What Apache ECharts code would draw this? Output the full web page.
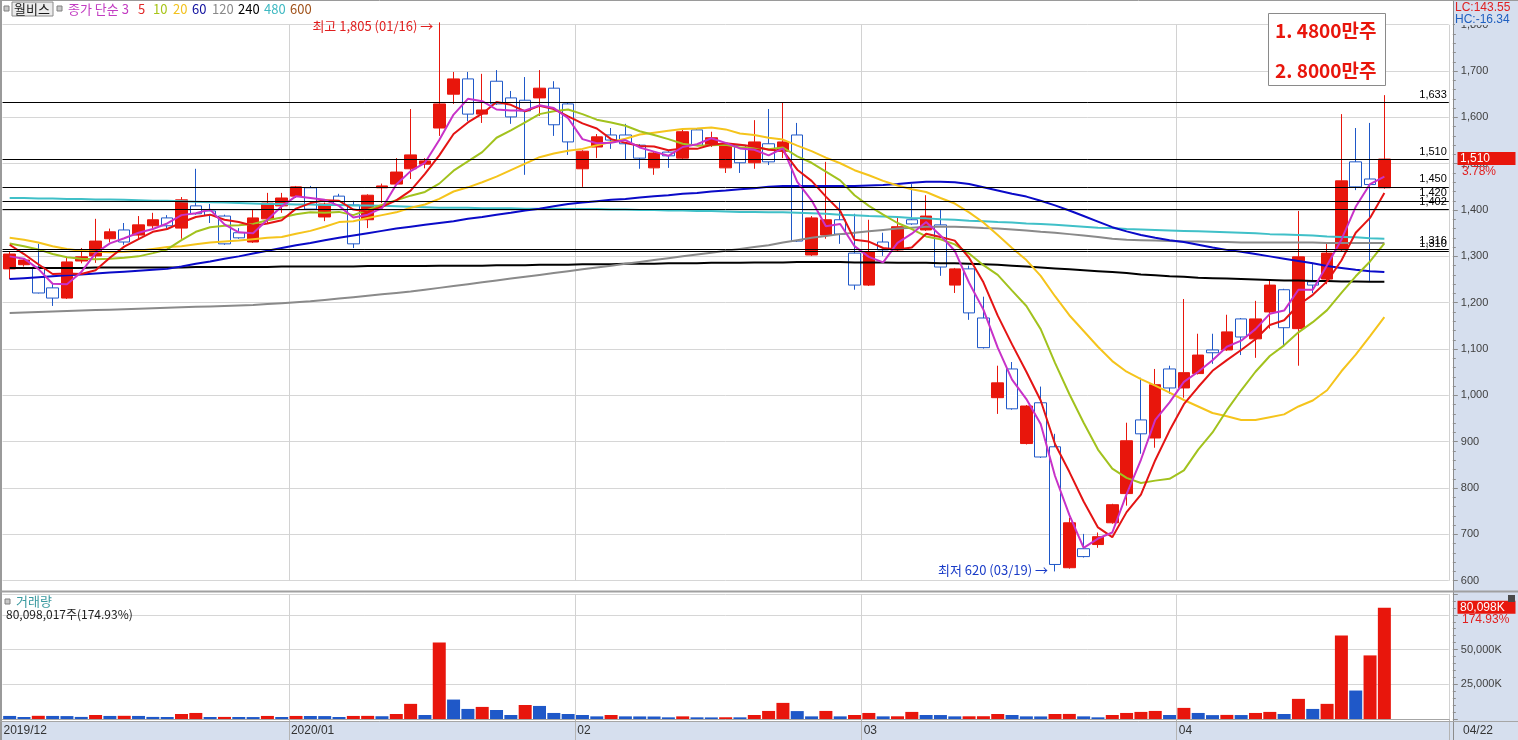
<!DOCTYPE html>
<html><head><meta charset="utf-8">
<script src="https://cdn.jsdelivr.net/npm/echarts@6/dist/echarts.min.js"></script>
<style>html,body{margin:0;padding:0;background:#fff}#c{width:1518px;height:740px}</style>
</head><body><div id="c"></div><script>
const dates = ['2019/12/02','2019/12/03','2019/12/04','2019/12/05','2019/12/06','2019/12/09','2019/12/10','2019/12/11','2019/12/12','2019/12/13','2019/12/16','2019/12/17','2019/12/18','2019/12/19','2019/12/20','2019/12/23','2019/12/24','2019/12/26','2019/12/27','2019/12/30',
'2020/01/02','2020/01/03','2020/01/06','2020/01/07','2020/01/08','2020/01/09','2020/01/10','2020/01/13','2020/01/14','2020/01/15','2020/01/16','2020/01/17','2020/01/20','2020/01/21','2020/01/22','2020/01/23','2020/01/28','2020/01/29','2020/01/30','2020/01/31',
'2020/02/03','2020/02/04','2020/02/05','2020/02/06','2020/02/07','2020/02/10','2020/02/11','2020/02/12','2020/02/13','2020/02/14','2020/02/17','2020/02/18','2020/02/19','2020/02/20','2020/02/21','2020/02/24','2020/02/25','2020/02/26','2020/02/27','2020/02/28',
'2020/03/02','2020/03/03','2020/03/04','2020/03/05','2020/03/06','2020/03/09','2020/03/10','2020/03/11','2020/03/12','2020/03/13','2020/03/16','2020/03/17','2020/03/18','2020/03/19','2020/03/20','2020/03/23','2020/03/24','2020/03/25','2020/03/26','2020/03/27','2020/03/30','2020/03/31',
'2020/04/01','2020/04/02','2020/04/03','2020/04/06','2020/04/07','2020/04/08','2020/04/09','2020/04/10','2020/04/13','2020/04/14','2020/04/16','2020/04/17','2020/04/20','2020/04/21','2020/04/22'];

const opens = [1273,1282,1277,1232,1210,1290,1301,1338,1357,1346,
1366,1383,1361,1409,1398,1387,1351,1331,1381,1409,
1430,1448,1385,1430,1411,1379,1448,1456,1489,1499,
1577,1650,1683,1607,1678,1642,1637,1642,1663,1629,
1489,1536,1562,1562,1540,1491,1525,1512,1573,1540,
1491,1540,1502,1543,1527,1562,1303,1346,1379,1307,
1238,1331,1314,1379,1357,1368,1238,1273,1167,995,
1057,896,984,889,628,669,678,725,788,947,
908,1057,1016,1047,1098,1098,1165,1122,1180,1228,
1144,1245,1251,1314,1504,1467,1448];
const closes = [1305,1292,1221,1210,1288,1299,1333,1353,1331,1368,
1379,1366,1422,1392,1389,1327,1340,1383,1415,1426,
1450,1402,1413,1411,1327,1432,1452,1482,1519,1506,
1629,1683,1607,1616,1629,1601,1614,1663,1584,1547,
1527,1558,1551,1543,1512,1523,1517,1569,1540,1556,
1540,1502,1547,1504,1547,1333,1383,1379,1348,1238,
1310,1314,1364,1370,1387,1277,1273,1178,1103,1027,
971,977,867,635,725,652,695,764,902,917,
1023,1016,1049,1087,1092,1137,1126,1165,1238,1146,
1299,1238,1307,1463,1450,1455,1510];
const lows = [1251,1278,1220,1193,1208,1285,1286,1330,1325,1338,
1360,1360,1338,1390,1372,1325,1338,1329,1372,1394,
1426,1400,1376,1409,1318,1361,1415,1454,1467,1490,
1560,1629,1592,1588,1627,1586,1476,1603,1560,1519,
1450,1512,1532,1510,1489,1476,1491,1510,1538,1536,
1480,1480,1489,1497,1512,1331,1301,1338,1327,1228,
1236,1301,1312,1368,1355,1258,1221,1163,1101,960,
969,894,865,620,626,650,671,723,762,874,
887,1003,995,1045,1068,1096,1087,1081,1144,1107,
1064,1221,1240,1312,1443,1247,1446];
const highs = [1310,1295,1327,1240,1297,1318,1381,1360,1372,1387,
1394,1389,1428,1489,1413,1390,1361,1402,1437,1437,
1452,1452,1416,1435,1420,1434,1457,1512,1618,1512,
1805,1698,1698,1694,1702,1657,1687,1702,1678,1633,
1529,1564,1577,1586,1542,1525,1527,1577,1577,1569,
1542,1542,1594,1618,1633,1588,1387,1504,1417,1392,
1379,1351,1383,1456,1432,1402,1275,1280,1213,1064,
1072,979,1019,917,736,701,704,766,941,1038,
1057,1064,1208,1133,1133,1174,1167,1204,1247,1230,
1398,1286,1331,1607,1577,1588,1648];
// volume in thousand shares
const volumes = [2200,1450,2300,2200,2100,1500,2900,2200,2300,2200,
1500,1450,3600,4350,1450,1500,1450,1400,2200,1450,
2200,2150,2100,1450,2200,2250,2000,3600,10900,2900,
55100,14000,7250,8700,6500,2900,10100,9400,4350,3600,
2900,1900,2900,1900,1850,1800,1200,1900,1200,1150,
1250,1200,2900,5800,11600,5700,1900,5800,1900,2900,
4350,1900,1950,5100,2900,2850,1900,1950,2000,3600,
2900,1900,1850,3600,3650,1900,1200,2900,4350,5100,
5800,2900,8000,4350,2800,2950,2850,4350,5100,3600,
14500,7250,10900,60100,20500,45788,80098];

const ma3 = [1300,1295,1273,1241,1240,1266,1307,1328,1339,1351,
1359,1371,1389,1393,1401,1369,1352,1350,1379,1408,
1430,1426,1422,1409,1384,1390,1404,1455,1484,1502,
1551,1606,1640,1635,1617,1615,1615,1626,1620,1598,
1553,1544,1545,1551,1535,1526,1517,1536,1542,1555,
1545,1533,1530,1518,1533,1461,1421,1365,1370,1322,
1299,1287,1329,1349,1374,1345,1312,1243,1185,1103,
1034,992,938,826,742,671,691,704,787,861,
947,985,1029,1051,1076,1105,1118,1143,1176,1183,
1228,1228,1281,1336,1407,1456,1472];
const ma5 = [1325,1305,1283,1262,1263,1262,1270,1297,1321,1337,
1353,1359,1373,1385,1390,1379,1374,1366,1371,1378,
1403,1415,1421,1420,1401,1397,1407,1421,1442,1478,
1518,1564,1589,1608,1633,1627,1613,1625,1618,1602,
1587,1576,1553,1545,1538,1537,1529,1533,1532,1541,
1544,1541,1537,1530,1528,1487,1463,1429,1398,1336,
1332,1318,1315,1319,1349,1342,1334,1297,1244,1172,
1110,1051,989,895,835,771,715,694,748,786,
860,924,981,1018,1053,1076,1098,1121,1152,1162,
1195,1217,1246,1291,1351,1383,1437];
const ma10 = [1328,1322,1315,1305,1298,1295,1294,1295,1297,1300,
1307,1315,1335,1353,1363,1366,1367,1370,1378,1384,
1391,1395,1394,1396,1389,1400,1411,1421,1431,1439,
1457,1485,1505,1525,1556,1572,1589,1607,1613,1617,
1607,1595,1589,1582,1570,1562,1553,1543,1539,1540,
1541,1535,1535,1531,1535,1516,1502,1483,1464,1432,
1409,1390,1372,1359,1343,1337,1326,1306,1281,1260,
1226,1193,1143,1070,1003,941,883,842,822,811,
816,820,838,883,920,968,1011,1051,1085,1108,
1136,1158,1184,1221,1257,1289,1328];
const ma20 = [1340,1336,1330,1322,1316,1312,1310,1309,1310,1312,
1316,1320,1322,1326,1330,1332,1334,1337,1340,1342,
1349,1355,1364,1374,1376,1383,1389,1395,1405,1412,
1424,1440,1449,1460,1472,1486,1500,1514,1522,1528,
1532,1540,1547,1554,1563,1567,1571,1575,1576,1578,
1574,1565,1562,1556,1552,1539,1527,1513,1501,1486,
1475,1463,1453,1445,1439,1426,1414,1395,1373,1346,
1318,1292,1258,1214,1173,1139,1105,1074,1051,1035,
1021,1006,990,976,962,955,947,947,953,959,
976,989,1011,1052,1088,1128,1169];
const ma60 = [1251,1253,1255,1257,1259,1261,1263,1265,1267,1269,
1271,1273,1278,1284,1289,1295,1300,1306,1312,1318,
1324,1329,1335,1340,1345,1350,1355,1360,1364,1368,
1372,1376,1381,1385,1390,1394,1399,1403,1408,1413,
1416,1419,1422,1424,1427,1430,1432,1435,1437,1440,
1442,1445,1447,1450,1452,1452,1452,1452,1452,1452,
1453,1454,1456,1459,1461,1461,1460,1456,1449,1442,
1435,1429,1420,1410,1399,1387,1375,1363,1354,1346,
1340,1335,1331,1325,1319,1314,1310,1305,1300,1295,
1290,1285,1279,1275,1271,1268,1266];
const ma120 = [1178,1179,1180,1181,1182,1183,1184,1185,1186,1187,
1188,1189,1190,1191,1192,1193,1194,1195,1197,1199,
1201,1203,1206,1209,1212,1215,1218,1221,1224,1228,
1232,1236,1240,1244,1248,1252,1256,1260,1264,1268,
1272,1276,1280,1284,1288,1292,1296,1300,1304,1308,
1312,1316,1320,1324,1330,1335,1340,1344,1348,1351,
1354,1357,1360,1362,1364,1364,1364,1363,1361,1360,
1358,1356,1353,1351,1348,1345,1342,1338,1336,1335,
1334,1333,1332,1332,1331,1331,1330,1330,1330,1330,
1330,1330,1329,1329,1329,1329,1329];
const ma240 = [1275,1275,1275,1275,1275,1275,1276,1276,1276,1276,
1276,1276,1276,1277,1277,1277,1277,1277,1277,1278,
1278,1278,1278,1278,1278,1279,1279,1279,1279,1279,
1280,1280,1280,1280,1281,1281,1281,1282,1282,1282,
1283,1283,1283,1284,1284,1284,1285,1285,1285,1286,
1286,1286,1287,1287,1287,1288,1288,1288,1288,1287,
1287,1287,1286,1286,1286,1285,1285,1284,1283,1282,
1280,1278,1276,1274,1272,1270,1268,1266,1264,1261,
1259,1257,1256,1254,1253,1252,1251,1250,1249,1248,
1248,1247,1247,1246,1246,1245,1245];
const ma480 = [1426,1426,1425,1425,1424,1424,1423,1423,1422,1421,
1420,1420,1419,1418,1417,1416,1415,1414,1413,1413,
1412,1412,1411,1411,1410,1410,1409,1408,1407,1406,
1405,1405,1405,1404,1404,1404,1403,1403,1403,1402,
1402,1402,1401,1401,1400,1400,1399,1399,1398,1398,
1397,1396,1396,1395,1395,1394,1393,1392,1390,1389,
1387,1386,1385,1383,1382,1380,1379,1377,1376,1374,
1373,1371,1370,1368,1366,1364,1362,1361,1359,1358,
1357,1356,1355,1354,1353,1352,1351,1350,1348,1347,
1346,1345,1343,1342,1341,1339,1338];

const refLevels = [1633, 1510, 1450, 1420, 1402, 1316, 1310];
const legendItems = [['종가 단순 3','#c23cc2'],['5','#e02828'],['10','#a8c418'],['20','#f2c21e'],['60','#10109e'],['120','#8a8a8a'],['240','#000000'],['480','#3fb9c2'],['600','#a0521a']];

const fmt = v => String(v).replace(/\B(?=(\d{3})+(?!\d))/g, ',');
const RED = '#e8160c', BLUE = '#1f58c8';
const NUMFONT = '"Liberation Sans", Arial, sans-serif';
const KFONT = '"Noto Sans CJK KR", sans-serif';
const cats = dates.concat(['', '', '', '']);
const monthStarts = dates.map((d, i) => (i > 0 && d.slice(0, 7) !== dates[i - 1].slice(0, 7)) ? i : -1).filter(i => i > 0);
const isMonthStart = (idx) => monthStarts.indexOf(idx) >= 0;

const hiIdx = highs.indexOf(Math.max(...highs));
const loIdx = lows.indexOf(Math.min(...lows));
const last = dates.length - 1;

function maSeries(name, data, color, width) {
  return { name, type: 'line', xAxisIndex: 0, yAxisIndex: 0, data, symbol: 'none', showSymbol: false,
    lineStyle: { color, width }, itemStyle: { color }, z: 4, silent: true, animation: false };
}

const option = {
  animation: false,
  backgroundColor: '#d6dfee',
  grid: [
    { left: 2.5, right: 69.2, top: 24.7, height: 556 },
    { left: 2.5, right: 69.2, top: 594, height: 125 }
  ],
  xAxis: [
    { type: 'category', gridIndex: 0, data: cats, boundaryGap: true,
      axisLine: { show: false }, axisTick: { show: false }, axisLabel: { show: false },
      splitLine: { show: true, interval: (i) => isMonthStart(i), lineStyle: { color: '#d2d2d2', width: 1 } } },
    { type: 'category', gridIndex: 1, data: cats, boundaryGap: true,
      axisLine: { show: true, lineStyle: { color: '#a6a6a6' } },
      axisTick: { show: true, interval: (i) => isMonthStart(i), length: 21, lineStyle: { color: '#b4b4b4' } },
      axisLabel: { show: false },
      splitLine: { show: true, interval: (i) => isMonthStart(i), lineStyle: { color: '#d2d2d2', width: 1 } } }
  ],
  yAxis: [
    { type: 'value', gridIndex: 0, position: 'right', offset: 4, min: 600, max: 1800, interval: 100,
      axisLine: { show: false },
      axisTick: { show: true, length: 5, lineStyle: { color: '#8c8c8c' } },
      minorTick: { show: true, splitNumber: 5, length: 3, lineStyle: { color: '#8c8c8c' } },
      axisLabel: { color: '#404040', fontSize: 11, fontFamily: NUMFONT, margin: 8, formatter: v => fmt(v) },
      splitLine: { show: true, lineStyle: { color: '#d6d6d6', width: 1 } } },
    { type: 'value', gridIndex: 1, position: 'right', offset: 4, min: 0, max: 90000, interval: 25000,
      axisLine: { show: false },
      axisTick: { show: true, length: 5, lineStyle: { color: '#8c8c8c' } },
      minorTick: { show: true, splitNumber: 5, length: 3, lineStyle: { color: '#8c8c8c' } },
      axisLabel: { color: '#404040', fontSize: 11, fontFamily: NUMFONT, margin: 8,
        formatter: v => (v === 25000 || v === 50000) ? fmt(v) + 'K' : '' },
      splitLine: { show: true, lineStyle: { color: '#d6d6d6', width: 1 } } }
  ],
  series: [
    { name: 'price', type: 'candlestick', xAxisIndex: 0, yAxisIndex: 0, clip: false, barWidth: 12, z: 3,
      data: dates.map((d, i) => [opens[i], closes[i], lows[i], highs[i]]),
      itemStyle: { color: RED, color0: '#ffffff', borderColor: RED, borderColor0: BLUE, borderWidth: 1 },
      markLine: { silent: true, animation: false, symbol: ['none', 'none'],
        lineStyle: { color: '#000', width: 1, type: 'solid' },
        label: { show: true, position: 'insideEndTop', distance: [2, 2], color: '#000', fontSize: 11, fontFamily: NUMFONT, formatter: p => fmt(p.value) },
        emphasis: { disabled: true },
        data: refLevels.map(v => ({ yAxis: v })) } },
    maSeries('MA480', ma480, '#40c0c8', 2),
    maSeries('MA240', ma240, '#000000', 2),
    maSeries('MA120', ma120, '#8a8a8a', 2),
    maSeries('MA60', ma60, '#0a0ac8', 2),
    maSeries('MA20', ma20, '#f5c41c', 2),
    maSeries('MA10', ma10, '#a2c21e', 2),
    maSeries('MA5', ma5, '#e41414', 2),
    maSeries('MA3', ma3, '#c832c8', 2),
    { name: 'volume', type: 'bar', xAxisIndex: 1, yAxisIndex: 1, barWidth: 13, data: volumes, silent: true,
      itemStyle: { color: p => (p.dataIndex > 0 && volumes[p.dataIndex] > volumes[p.dataIndex - 1]) ? RED : BLUE } }
  ]
};

const chart = echarts.init(document.getElementById('c'), null, { renderer: 'canvas', width: 1518, height: 740 });
chart.setOption(option);

function txt(text, x, y, fill, font, align) {
  return { type: 'text', z: 100, silent: true,
    style: { text, x, y, fill, font, textAlign: align || 'left', textVerticalAlign: 'middle' } };
}
const g = [];
// panel backgrounds and borders
g.push({ type: 'rect', z: -100, silent: true, shape: { x: 0, y: 0, width: 1453, height: 721 }, style: { fill: '#ffffff' } });
g.push({ type: 'line', z: 50, silent: true, shape: { x1: 1453.5, y1: 0, x2: 1453.5, y2: 740 }, style: { stroke: '#8c8c8c', lineWidth: 1 } });
g.push({ type: 'line', z: 50, silent: true, shape: { x1: 1, y1: 0, x2: 1, y2: 740 }, style: { stroke: '#9a9a9a', lineWidth: 2 } });
g.push({ type: 'line', z: 50, silent: true, shape: { x1: 0, y1: 0.5, x2: 1518, y2: 0.5 }, style: { stroke: '#9a9a9a', lineWidth: 1 } });
g.push({ type: 'line', z: 50, silent: true, shape: { x1: 0, y1: 591.5, x2: 1518, y2: 591.5 }, style: { stroke: '#a0a0a0', lineWidth: 2 } });
g.push({ type: 'line', z: 50, silent: true, shape: { x1: 0, y1: 721.5, x2: 1518, y2: 721.5 }, style: { stroke: '#a6a6a6', lineWidth: 1 } });

// legend row
g.push({ type: 'rect', z: 100, silent: true, shape: { x: 4, y: 6, width: 5, height: 5 }, style: { fill: '#c8c8c8', stroke: '#808080', lineWidth: 1 } });
g.push({ type: 'rect', z: 100, silent: true, shape: { x: 12, y: 2, width: 41, height: 14 }, style: { fill: '#ebebeb', stroke: '#8a8a8a', lineWidth: 1 } });
g.push(txt('월비스', 14, 9.5, '#1a1a1a', '13px ' + KFONT));
g.push({ type: 'rect', z: 100, silent: true, shape: { x: 57, y: 6, width: 5, height: 5 }, style: { fill: '#c8c8c8', stroke: '#808080', lineWidth: 1 } });
const legX = [68, 138, 153, 173, 192, 212, 238, 264, 290];
legendItems.forEach((it, k) => g.push(txt(it[0], legX[k], 9.5, it[1], '13px ' + KFONT)));

// high / low annotations (positioned through the chart's own scales)
const pHi = chart.convertToPixel({ gridIndex: 0 }, [dates[hiIdx], highs[hiIdx]]);
g.push(txt('최고 ' + fmt(highs[hiIdx]) + ' (' + dates[hiIdx].slice(5) + ') →', pHi[0] - 6, pHi[1] + 4, '#e01e1e', '13px ' + KFONT, 'right'));
const pLo = chart.convertToPixel({ gridIndex: 0 }, [dates[loIdx], lows[loIdx]]);
g.push(txt('최저 ' + fmt(lows[loIdx]) + ' (' + dates[loIdx].slice(5) + ') →', pLo[0] - 7, pLo[1] - 1, '#1a3cc8', '13px ' + KFONT, 'right'));

// top-right info box
g.push({ type: 'rect', z: 100, silent: true, shape: { x: 1268.5, y: 13.5, width: 117, height: 72 }, style: { fill: '#ffffff', stroke: '#8a8a8a', lineWidth: 1 } });
g.push(txt('1. 4800만주', 1275, 31, '#e8160c', 'bold 19px ' + KFONT));
g.push(txt('2. 8000만주', 1275, 71, '#e8160c', 'bold 19px ' + KFONT));

// LC / HC
const lastC = closes[last];
const lc = ((lastC - lows[loIdx]) / lows[loIdx] * 100).toFixed(2);
const hc = ((lastC - highs[hiIdx]) / highs[hiIdx] * 100).toFixed(2);
g.push({ type: 'rect', z: 90, silent: true, shape: { x: 1455, y: 14, width: 60, height: 11 }, style: { fill: '#d6dfee' } });
g.push(txt('LC:' + lc, 1455, 7.5, '#e02020', '12px ' + NUMFONT));
g.push(txt('HC:' + hc, 1455, 19.5, '#2060c0', '12px ' + NUMFONT));

// price tag
const yLast = chart.convertToPixel({ gridIndex: 0 }, [dates[last], lastC])[1];
const chg = ((lastC - closes[last - 1]) / closes[last - 1] * 100).toFixed(2);
g.push({ type: 'rect', z: 100, silent: true, shape: { x: 1457.5, y: yLast - 7, width: 58, height: 13 }, style: { fill: '#e8160c' } });
g.push(txt(fmt(lastC), 1460, yLast - 0.5, '#ffffff', '12px ' + NUMFONT));
g.push(txt(chg + '%', 1462, yLast + 12.5, '#e02020', '12px ' + NUMFONT));

// volume header + tag
g.push({ type: 'rect', z: 100, silent: true, shape: { x: 5, y: 599, width: 5, height: 5 }, style: { fill: '#c8c8c8', stroke: '#808080', lineWidth: 1 } });
g.push(txt('거래량', 16, 601.5, '#3a9aa0', '13px ' + KFONT));
const vLast = volumes[last], vPrev = volumes[last - 1];
const vPct = (vLast / vPrev * 100).toFixed(2);
g.push(txt('80,098,017주(' + vPct + '%)', 6, 614.5, '#222222', '12px ' + KFONT));
const yVol = chart.convertToPixel({ gridIndex: 1 }, [dates[last], vLast])[1];
g.push({ type: 'rect', z: 100, silent: true, shape: { x: 1457.5, y: yVol - 7, width: 58, height: 13 }, style: { fill: '#e8160c' } });
g.push(txt(fmt(vLast) + 'K', 1460, yVol - 0.5, '#ffffff', '12px ' + NUMFONT));
g.push(txt(vPct + '%', 1462, yVol + 11.5, '#e02020', '12px ' + NUMFONT));
g.push({ type: 'rect', z: 100, silent: true, shape: { x: 1508, y: 595, width: 7, height: 7 }, style: { fill: '#4a4a4a' } });

// x-axis date labels at month starts
const c0 = chart.convertToPixel({ gridIndex: 1 }, [0, 0])[0];
const c1 = chart.convertToPixel({ gridIndex: 1 }, [1, 0])[0];
const band = c1 - c0;
[0].concat(monthStarts).forEach(i => {
  const d = dates[i];
  const yearChange = i === 0 || d.slice(0, 4) !== dates[i - 1].slice(0, 4);
  const label = yearChange ? d.slice(0, 7) : d.slice(5, 7);
  const x = chart.convertToPixel({ gridIndex: 1 }, [i, 0])[0] - band / 2 + (i === 0 ? 1 : 2);
  g.push(txt(label, x, 731, '#333333', '12px ' + NUMFONT));
});
g.push(txt(dates[last].slice(5), 1463, 731, '#333333', '12px ' + NUMFONT));

chart.setOption({ graphic: { elements: g } });
</script></body></html>
